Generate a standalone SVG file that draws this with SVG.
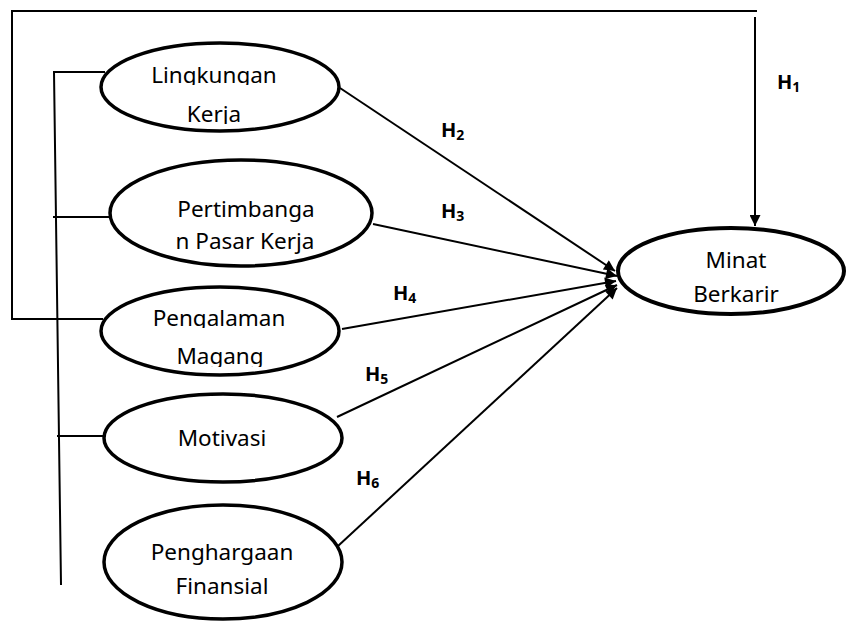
<svg xmlns="http://www.w3.org/2000/svg" width="847" height="621" viewBox="0 0 847 621">
<style>
.node{fill:#fff;stroke:#000;stroke-width:3.5}
.t{font-family:"Noto Sans","Open Sans","DejaVu Sans",sans-serif;font-size:22.5px;fill:#000;text-anchor:middle}
.lbl{font-family:"Noto Sans","Open Sans","DejaVu Sans",sans-serif;font-size:20px;font-weight:bold;fill:#000}
.sub{font-size:14px}
.ln{fill:none;stroke:#000;stroke-width:2}
</style>
<defs>
<marker id="ah" viewBox="0 0 10 10" refX="10" refY="5" markerWidth="13" markerHeight="11" markerUnits="userSpaceOnUse" orient="auto">
<path d="M0,0 L10,5 L0,10 z" fill="#000"/>
</marker>
<clipPath id="c1"><rect x="0" y="0" width="847" height="85"/></clipPath>
<clipPath id="c2"><rect x="0" y="0" width="847" height="124"/></clipPath>
<clipPath id="c3"><rect x="0" y="0" width="847" height="328"/></clipPath>
<clipPath id="c4"><rect x="0" y="0" width="847" height="367"/></clipPath>
</defs>
<rect width="847" height="621" fill="#fff"/>
<g id="connectors">
<path class="ln" d="M103,319 H12 V11 H757"/>
<path class="ln" d="M755,17 V226" marker-end="url(#ah)"/>
<path class="ln" d="M105,72 H54 L61,585"/>
<path class="ln" d="M53,217 H111"/>
<path class="ln" d="M57,436 H104"/>
<path class="ln" d="M340,88 L615,271" marker-end="url(#ah)"/>
<path class="ln" d="M373,224 L617,276" marker-end="url(#ah)"/>
<path class="ln" d="M342,329 L616,281" marker-end="url(#ah)"/>
<path class="ln" d="M337,417 L617,285" marker-end="url(#ah)"/>
<path class="ln" d="M338,546 L617,288" marker-end="url(#ah)"/>
</g>
<g id="labels">
<text class="lbl" x="777" y="89">H<tspan class="sub" dy="3">1</tspan></text>
<text class="lbl" x="441" y="137">H<tspan class="sub" dy="3">2</tspan></text>
<text class="lbl" x="441" y="218">H<tspan class="sub" dy="3">3</tspan></text>
<text class="lbl" x="393" y="300">H<tspan class="sub" dy="3">4</tspan></text>
<text class="lbl" x="365" y="381">H<tspan class="sub" dy="3">5</tspan></text>
<text class="lbl" x="356" y="485">H<tspan class="sub" dy="3">6</tspan></text>
</g>
<g id="lingkungan-kerja">
<ellipse class="node" cx="220" cy="87" rx="119" ry="44"/>
<text class="t" x="214" y="83" clip-path="url(#c1)">Lingkungan</text>
<text class="t" x="214" y="122" clip-path="url(#c2)">Kerja</text>
</g>
<g id="pertimbangan-pasar-kerja">
<ellipse class="node" cx="241" cy="213" rx="131" ry="53"/>
<text class="t" x="246" y="217">Pertimbanga</text>
<text class="t" x="245" y="249">n Pasar Kerja</text>
</g>
<g id="pengalaman-magang">
<ellipse class="node" cx="220" cy="331" rx="119" ry="44"/>
<text class="t" x="219" y="326" clip-path="url(#c3)">Pengalaman</text>
<text class="t" x="220" y="364" clip-path="url(#c4)">Magang</text>
</g>
<g id="motivasi">
<ellipse class="node" cx="223" cy="438" rx="119" ry="44"/>
<text class="t" x="222" y="446">Motivasi</text>
</g>
<g id="penghargaan-finansial">
<ellipse class="node" cx="223" cy="562" rx="119" ry="57"/>
<text class="t" x="222" y="560">Penghargaan</text>
<text class="t" x="222" y="594">Finansial</text>
</g>
<g id="minat-berkarir">
<ellipse class="node" cx="731" cy="271" rx="113" ry="43" style="stroke-width:4"/>
<text class="t" x="736" y="268">Minat</text>
<text class="t" x="736" y="302">Berkarir</text>
</g>
</svg>
